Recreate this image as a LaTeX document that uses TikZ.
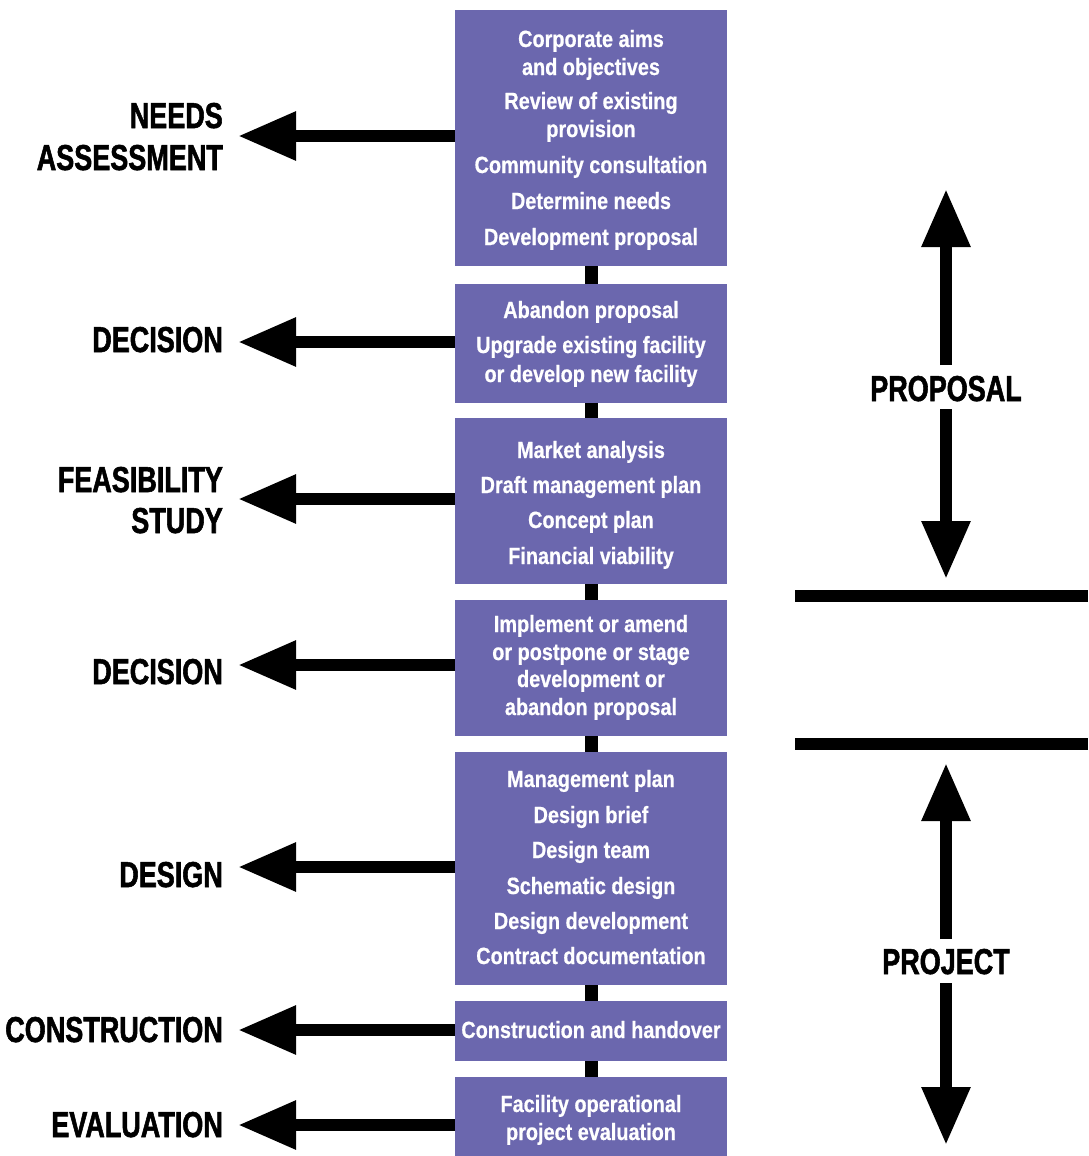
\documentclass[tikz,border=0pt]{standalone}
\usepackage{fontspec}
\usetikzlibrary{arrows.meta}
\newfontfamily\labfont{Liberation Sans}[FakeStretch=0.75, FakeBold=1.5]
\newfontfamily\stfont{Liberation Sans}[FakeStretch=0.845, FakeBold=0.6]
\definecolor{stagecol}{RGB}{107,103,174}
\begin{document}
\begin{tikzpicture}[x=1pt,y=-1pt,
  stagebox/.style={fill=stagecol, draw=none, minimum width=272pt, inner sep=0pt, anchor=north west},
  stagetxt/.style={text=white, font=\stfont\bfseries\fontsize{23.5}{28}\selectfont, anchor=base, inner sep=0pt},
  phase/.style={font=\labfont\bfseries\fontsize{36}{41}\selectfont, anchor=base east, inner sep=0pt},
  side/.style={font=\labfont\bfseries\fontsize{36}{41}\selectfont, anchor=base, inner sep=0pt},
  link/.style={line width=13pt},
  larr/.style={line width=12pt, -{Triangle[length=58pt,width=46pt]}},
  divider/.style={line width=12pt}]
\useasboundingbox (0,0) rectangle (1088,1156);

% stage boxes
\node[stagebox, minimum height=256pt] (b1) at (455,10) {};
\node[stagebox, minimum height=119pt] (b2) at (455,284) {};
\node[stagebox, minimum height=166pt] (b3) at (455,418) {};
\node[stagebox, minimum height=136pt] (b4) at (455,600) {};
\node[stagebox, minimum height=233pt] (b5) at (455,752) {};
\node[stagebox, minimum height=60pt]  (b6) at (455,1001) {};
\node[stagebox, minimum height=100pt] (b7) at (455,1077) {};

% vertical links
\draw[link] (b1.south) -- (b2.north);
\draw[link] (b2.south) -- (b3.north);
\draw[link] (b3.south) -- (b4.north);
\draw[link] (b4.south) -- (b5.north);
\draw[link] (b5.south) -- (b6.north);
\draw[link] (b6.south) -- (b7.north);

% box texts
\node[stagetxt] (t11) at (591,47)  {Corporate aims};
\node[stagetxt] (t12) at (591,75)  {and objectives};
\node[stagetxt] (t13) at (591,109) {Review of existing};
\node[stagetxt] (t14) at (591,137) {provision};
\node[stagetxt] (t15) at (591,173) {Community consultation};
\node[stagetxt] (t16) at (591,209) {Determine needs};
\node[stagetxt] (t17) at (591,245) {Development proposal};

\node[stagetxt] (t21) at (591,318) {Abandon proposal};
\node[stagetxt] (t22) at (591,353) {Upgrade existing facility};
\node[stagetxt] (t23) at (591,382) {or develop new facility};

\node[stagetxt] (t31) at (591,458) {Market analysis};
\node[stagetxt] (t32) at (591,493) {Draft management plan};
\node[stagetxt] (t33) at (591,528) {Concept plan};
\node[stagetxt] (t34) at (591,564) {Financial viability};

\node[stagetxt] (t41) at (591,632) {Implement or amend};
\node[stagetxt] (t42) at (591,660) {or postpone or stage};
\node[stagetxt] (t43) at (591,687) {development or};
\node[stagetxt] (t44) at (591,715) {abandon proposal};

\node[stagetxt] (t51) at (591,787) {Management plan};
\node[stagetxt] (t52) at (591,823) {Design brief};
\node[stagetxt] (t53) at (591,858) {Design team};
\node[stagetxt] (t54) at (591,894) {Schematic design};
\node[stagetxt] (t55) at (591,929) {Design development};
\node[stagetxt] (t56) at (591,964) {Contract documentation};

\node[stagetxt] (t61) at (591,1038) {Construction and handover};

\node[stagetxt] (t71) at (591,1112) {Facility operational};
\node[stagetxt] (t72) at (591,1140) {project evaluation};

% left arrows
\coordinate (a1) at (238,136);
\coordinate (a2) at (238,342);
\coordinate (a3) at (238,499);
\coordinate (a4) at (238,665);
\coordinate (a5) at (238,867);
\coordinate (a6) at (238,1030);
\coordinate (a7) at (238,1125);
\draw[larr] (b1.west |- a1) -- (a1);
\draw[larr] (b2.west |- a2) -- (a2);
\draw[larr] (b3.west |- a3) -- (a3);
\draw[larr] (b4.west |- a4) -- (a4);
\draw[larr] (b5.west |- a5) -- (a5);
\draw[larr] (b6.west |- a6) -- (a6);
\draw[larr] (b7.west |- a7) -- (a7);

% left labels
\node[phase] (l1a) at (223,128) {NEEDS};
\node[phase] (l1b) at (223,170) {ASSESSMENT};
\node[phase] (l2)  at (223,352) {DECISION};
\node[phase] (l3a) at (223,492) {FEASIBILITY};
\node[phase] (l3b) at (223,533) {STUDY};
\node[phase] (l4)  at (223,684) {DECISION};
\node[phase] (l5)  at (223,887) {DESIGN};
\node[phase] (l6)  at (223,1042) {CONSTRUCTION};
\node[phase] (l7)  at (223,1137) {EVALUATION};

% dividers
\coordinate (d1a) at (795,596);
\coordinate (d1b) at (1088,596);
\coordinate (d2a) at (795,744);
\coordinate (d2b) at (1088,744);
\draw[divider] (d1a) -- (d1b);
\draw[divider] (d2a) -- (d2b);

% proposal
\node[side] (prop) at (946,401) {PROPOSAL};
\coordinate (pt)  at (946,189);
\coordinate (ps1) at (946,365);
\coordinate (ps2) at (946,409);
\coordinate (pb)  at (946,579);
\draw[larr] (ps1) -- (pt);
\draw[larr] (ps2) -- (pb);

% project
\node[side] (proj) at (946,974) {PROJECT};
\coordinate (jt)  at (946,763);
\coordinate (js1) at (946,939);
\coordinate (js2) at (946,983);
\coordinate (jb)  at (946,1145);
\draw[larr] (js1) -- (jt);
\draw[larr] (js2) -- (jb);
\end{tikzpicture}
\end{document}
